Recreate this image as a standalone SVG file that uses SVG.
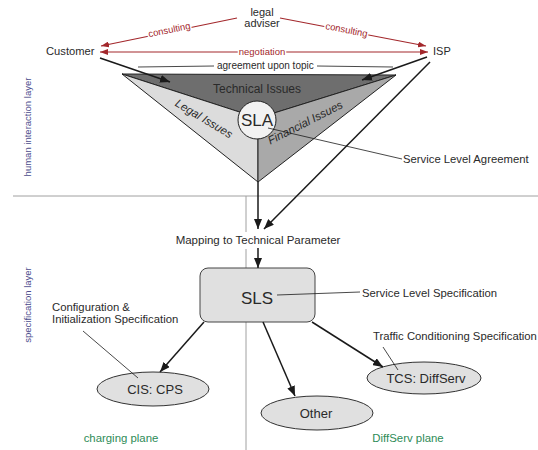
<svg xmlns="http://www.w3.org/2000/svg" width="538" height="450" viewBox="0 0 538 450">
<defs>
<marker id="ab" markerWidth="10" markerHeight="8" refX="10" refY="4" orient="auto" markerUnits="userSpaceOnUse"><path d="M0,0 L10,4 L0,8 z" fill="#1a1a1a"/></marker>
<marker id="ar" markerWidth="8" markerHeight="6" refX="8" refY="3" orient="auto" markerUnits="userSpaceOnUse"><path d="M0,0 L8,3 L0,6 z" fill="#a3282c"/></marker>
<style>
text{font-family:"Liberation Sans",Arial,sans-serif;fill:#2a2a2a}
.red{fill:#a3282c;font-size:9.5px;stroke:#fff;stroke-width:3;paint-order:stroke}
.rl{stroke:#a3282c;stroke-width:1.2;fill:none}
.bl{stroke:#1a1a1a;stroke-width:1.5;fill:none}
.thin{stroke:#1a1a1a;stroke-width:0.8;fill:none}
.sep{stroke:#a0a0a0;stroke-width:1;fill:none}
.layer{fill:#4b4b8c;font-size:9.5px}
.plane{fill:#2e8b57;font-size:11.4px}
.ell{fill:#e0e0e0;stroke:#333;stroke-width:1}
.lbl{font-size:11.3px}
.en{font-size:13px}
</style>
</defs>
<g id="separators">
<line class="sep" x1="13" y1="196" x2="538" y2="196"/>
<line class="sep" x1="246" y1="196" x2="246" y2="232"/>
<line class="sep" x1="246" y1="249" x2="246" y2="450"/>
</g>
<g id="layer-labels">
<text class="layer" transform="translate(31,127) rotate(-90)" text-anchor="middle">human interaction layer</text>
<text class="layer" transform="translate(31,305) rotate(-90)" text-anchor="middle">specification layer</text>
<text class="plane" x="121" y="442" text-anchor="middle">charging plane</text>
<text class="plane" x="408" y="442" text-anchor="middle">DiffServ plane</text>
</g>
<g id="sla-triangle">
<polygon points="122,74 396,75 258,118" fill="#6e6e6e" stroke="#222" stroke-width="1"/>
<polygon points="122,74 258,118 258,182" fill="#dcdcdc" stroke="#222" stroke-width="1"/>
<polygon points="396,75 258,118 258,182" fill="#a9a9a9" stroke="#222" stroke-width="1"/>
<text x="257" y="93" text-anchor="middle" font-size="12">Technical Issues</text>
<text transform="translate(202,122) rotate(31)" text-anchor="middle" font-size="11.5" font-style="italic">Legal Issues</text>
<text transform="translate(307,126) rotate(-27)" text-anchor="middle" font-size="11.5" font-style="italic">Financial Issues</text>
<circle cx="257" cy="120" r="19" fill="#f2f2f2" stroke="#222" stroke-width="1"/>
<text x="257" y="126" text-anchor="middle" font-size="17">SLA</text>
</g>
<g id="customer"><text x="46" y="55" font-size="11.2">Customer</text></g>
<g id="isp"><text x="433" y="55" font-size="11">ISP</text></g>
<g id="legal-adviser"><text x="262" y="16" text-anchor="middle" font-size="11">legal</text><text x="262" y="27" text-anchor="middle" font-size="11">adviser</text></g>
<g id="mapping"><text x="258" y="244" text-anchor="middle" font-size="11.5">Mapping to Technical Parameter</text></g>
<g id="sls">
<rect x="200" y="268" width="115" height="54" rx="8" fill="#e0e0e0" stroke="#444" stroke-width="1"/>
<text x="257" y="304" text-anchor="middle" font-size="17">SLS</text>
</g>
<g id="cis"><ellipse class="ell" cx="153" cy="389" rx="56" ry="17"/><text class="en" x="155" y="394" text-anchor="middle">CIS: CPS</text></g>
<g id="other"><ellipse class="ell" cx="317" cy="413" rx="56" ry="17"/><text class="en" x="316" y="418" text-anchor="middle">Other</text></g>
<g id="tcs"><ellipse class="ell" cx="424" cy="378" rx="57" ry="16"/><text class="en" x="426" y="383" text-anchor="middle">TCS: DiffServ</text></g>
<g id="annotations">
<text x="217" y="69" font-size="10">agreement upon topic</text>
<text class="lbl" x="403" y="163">Service Level Agreement</text>
<text class="lbl" x="362" y="297">Service Level Specification</text>
<text class="lbl" x="52" y="311">Configuration &amp;</text>
<text class="lbl" x="52" y="323">Initialization Specification</text>
<text class="lbl" x="373" y="340">Traffic Conditioning Specification</text>
</g>
<g id="connectors">
<line class="rl" x1="237" y1="18" x2="101" y2="46" marker-end="url(#ar)"/>
<line class="rl" x1="280" y1="18" x2="426" y2="46" marker-end="url(#ar)"/>
<line class="rl" x1="262" y1="52" x2="100" y2="52" marker-end="url(#ar)"/>
<line class="rl" x1="262" y1="52" x2="428" y2="52" marker-end="url(#ar)"/>
<text class="red" transform="translate(170,33) rotate(-11.5)" text-anchor="middle">consulting</text>
<text class="red" transform="translate(346,33) rotate(11)" text-anchor="middle">consulting</text>
<text class="red" x="262" y="55" text-anchor="middle">negotiation</text>
<line class="thin" x1="138" y1="67" x2="214" y2="66"/>
<line class="thin" x1="317" y1="66" x2="393" y2="67"/>
<line class="bl" x1="100" y1="58" x2="170" y2="82" marker-end="url(#ab)"/>
<line class="bl" x1="427" y1="57" x2="362" y2="80" marker-end="url(#ab)"/>
<line class="bl" x1="430" y1="62" x2="264" y2="229" marker-end="url(#ab)"/>
<line class="bl" x1="258" y1="182" x2="258" y2="229" marker-end="url(#ab)"/>
<line class="bl" x1="258" y1="248" x2="258" y2="268" marker-end="url(#ab)"/>
<line class="thin" x1="268" y1="128" x2="402" y2="159"/>
<line class="thin" x1="277" y1="295" x2="360" y2="292"/>
<line class="thin" x1="83" y1="331" x2="138" y2="378"/>
<line class="thin" x1="383" y1="347" x2="398" y2="370"/>
<line class="bl" x1="204" y1="322" x2="160" y2="372" marker-end="url(#ab)"/>
<line class="bl" x1="263" y1="322" x2="295" y2="396" marker-end="url(#ab)"/>
<line class="bl" x1="312" y1="322" x2="383" y2="367" marker-end="url(#ab)"/>
</g>
</svg>
